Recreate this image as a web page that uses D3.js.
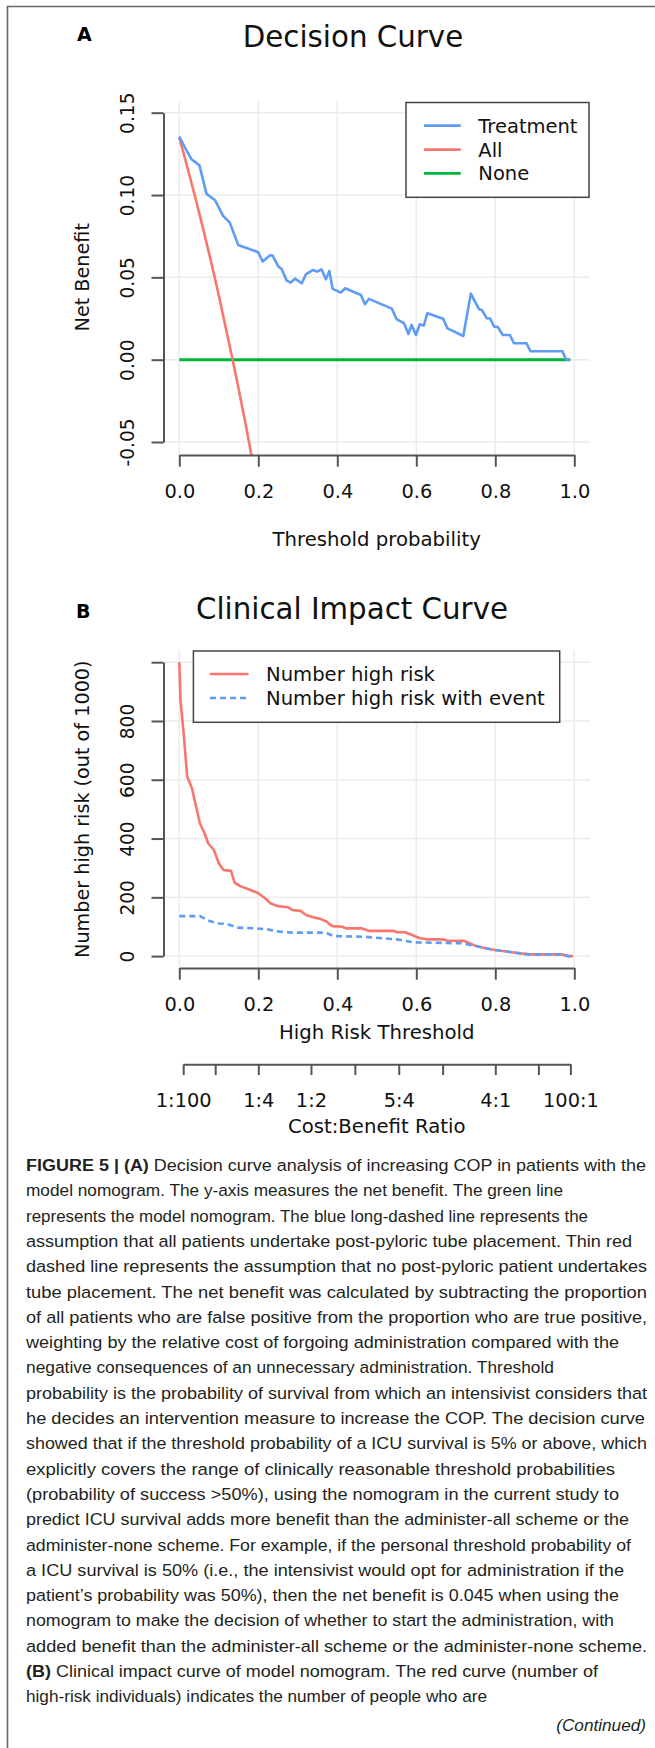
<!DOCTYPE html>
<html>
<head>
<meta charset="utf-8">
<script src="https://cdn.jsdelivr.net/npm/d3@7/dist/d3.min.js"></script>
<style>
html,body{margin:0;padding:0;background:#fff;}
svg{display:block;}
</style>
</head>
<body>
<svg id="fig" width="655" height="1748"></svg>
<script>
// ---------- DATA ----------
// Panel A: Decision curve
const treatmentX = [0,0.014,0.031,0.051,0.069,0.09,0.111,0.128,0.149,0.2,0.211,0.23,0.236,0.251,0.259,0.272,0.282,0.293,0.31,0.321,0.339,0.349,0.36,0.371,0.38,0.388,0.409,0.42,0.46,0.47,0.48,0.538,0.55,0.569,0.58,0.588,0.599,0.609,0.619,0.628,0.668,0.679,0.719,0.738,0.759,0.766,0.778,0.787,0.797,0.806,0.819,0.837,0.847,0.879,0.889,0.97,0.979,0.99];
const treatmentY = [0.1355,0.129,0.1217,0.118,0.1007,0.097,0.0873,0.0832,0.0697,0.0652,0.0596,0.0634,0.0632,0.0565,0.0551,0.048,0.0468,0.0492,0.0464,0.052,0.0545,0.0535,0.0549,0.0488,0.0539,0.043,0.0407,0.0434,0.0393,0.0337,0.0369,0.031,0.0247,0.0221,0.0156,0.0211,0.015,0.0215,0.0207,0.0282,0.0249,0.019,0.0144,0.0401,0.0306,0.0302,0.0252,0.025,0.02,0.0199,0.015,0.015,0.01,0.01,0.0051,0.0051,0,0];
const allX = [0,0.05,0.10,0.135,0.1765,0.19];
const allY = [0.135,0.0895,0.039,0,-0.05,-0.068];
const noneX = [0,0.99];
const noneY = [0,0];
const xTicks = [0,0.2,0.4,0.6,0.8,1.0];
const yTicksA = [-0.05,0,0.05,0.10,0.15];
const yLabelsA = ["-0.05","0.00","0.05","0.10","0.15"];
const legendA = ["Treatment","All","None"];

// Panel B: Clinical impact curve
const highRiskX = [0,0.003,0.011,0.02,0.032,0.052,0.064,0.073,0.0875,0.1,0.112,0.131,0.14,0.154,0.18,0.2,0.217,0.231,0.249,0.276,0.286,0.307,0.321,0.339,0.36,0.373,0.387,0.413,0.422,0.461,0.479,0.542,0.551,0.572,0.609,0.63,0.667,0.68,0.72,0.752,0.778,0.8,0.847,0.884,0.968,0.984,0.997];
const highRiskY = [1000,871,758,610,571,452,418,384,361,316,293,290,250,238,225,214,197,180,170,166,157,154,140,132,125,117,102,100,94.5,94.5,86,86,81,81,60.5,57,57,52,52,34,26,21,12,6,6,0,0];
const eventX = [0,0.052,0.075,0.101,0.122,0.147,0.193,0.223,0.255,0.286,0.371,0.39,0.466,0.551,0.593,0.715,0.752,0.778,0.8,0.847,0.884,0.968,0.984,0.997];
const eventY = [136,136,120,111,109,97,94.5,91,83,80,80,68,66,57,47,43.5,34,26,21,12,6,6,0,0];
const yTicksB = [0,200,400,600,800,1000];
const yLabelsB = ["0","200","400","600","800",""];
const legendB = ["Number high risk","Number high risk with event"];
const costBenefitTicks = ["1:100","1:10","1:4","1:2","4:5","5:4","2:1","4:1","10:1","100:1"];
const costBenefitLabeled = ["1:100","1:4","1:2","5:4","4:1","100:1"];

// Caption
const captionLines = [
  [["b","FIGURE 5 | (A)"],["n"," Decision curve analysis of increasing COP in patients with the"]],
  [["n","model nomogram. The y-axis measures the net benefit. The green line"]],
  [["n","represents the model nomogram. The blue long-dashed line represents the"]],
  [["n","assumption that all patients undertake post-pyloric tube placement. Thin red"]],
  [["n","dashed line represents the assumption that no post-pyloric patient undertakes"]],
  [["n","tube placement. The net benefit was calculated by subtracting the proportion"]],
  [["n","of all patients who are false positive from the proportion who are true positive,"]],
  [["n","weighting by the relative cost of forgoing administration compared with the"]],
  [["n","negative consequences of an unnecessary administration. Threshold"]],
  [["n","probability is the probability of survival from which an intensivist considers that"]],
  [["n","he decides an intervention measure to increase the COP. The decision curve"]],
  [["n","showed that if the threshold probability of a ICU survival is 5% or above, which"]],
  [["n","explicitly covers the range of clinically reasonable threshold probabilities"]],
  [["n","(probability of success >50%), using the nomogram in the current study to"]],
  [["n","predict ICU survival adds more benefit than the administer-all scheme or the"]],
  [["n","administer-none scheme. For example, if the personal threshold probability of"]],
  [["n","a ICU survival is 50% (i.e., the intensivist would opt for administration if the"]],
  [["n","patient\u2019s probability was 50%), then the net benefit is 0.045 when using the"]],
  [["n","nomogram to make the decision of whether to start the administration, with"]],
  [["n","added benefit than the administer-all scheme or the administer-none scheme."]],
  [["b","(B)"],["n"," Clinical impact curve of model nomogram. The red curve (number of"]],
  [["n","high-risk individuals) indicates the number of people who are"]]
];
const captionLineEnds = [646,563,588,632,647,647,647,619,554,647,645,647,615,619,629,631,624,619,614,647,598,487];

// ---------- DRAWING ----------
const svg = d3.select("#fig");
const FONT = "DejaVu Sans, Verdana, sans-serif";
const AX = "#555";
const C_BLUE = "#5f9cf6", C_RED = "#f8766d", C_GREEN = "#00b43a";

// figure frame (left + top)
svg.append("path").attr("d","M7.5,1748 V6.5 H655").attr("fill","none").attr("stroke","#666").attr("stroke-width",1.6);

const xScale = d3.scaleLinear().domain([0,1]).range([179.3,574.3]);
const regionL = 163.5, regionR = 590;

function grid(g, y, yTicks, top, bottom){
  g.selectAll(".vg").data(xTicks).join("line")
    .attr("x1",d=>xScale(d)).attr("x2",d=>xScale(d)).attr("y1",top).attr("y2",bottom)
    .attr("stroke","#ebebeb").attr("stroke-width",1.5);
  g.selectAll(".hg").data(yTicks).join("line")
    .attr("x1",regionL).attr("x2",regionR).attr("y1",d=>y(d)).attr("y2",d=>y(d))
    .attr("stroke","#ebebeb").attr("stroke-width",1.5);
}

function styleAxis(g){
  g.select(".domain").attr("stroke",AX).attr("stroke-width",2);
  g.selectAll(".tick line").attr("stroke",AX).attr("stroke-width",2);
  g.selectAll("text").attr("fill","#111").attr("font-family",FONT);
}

function yAxis(y, ticks, labels){
  const g = svg.append("g").attr("transform",`translate(${regionL},0)`)
    .call(d3.axisLeft(y).tickValues(ticks).tickSize(12).tickSizeOuter(0)
      .tickFormat((d,i)=> labels[i]));
  styleAxis(g);
  g.selectAll(".tick text").attr("transform","rotate(-90)")
    .attr("x",0).attr("y",-29.5).attr("dy",0).attr("text-anchor","middle")
    .attr("font-size",18.6);
  return g;
}

function xAxis(yPos, labelBase){
  const g = svg.append("g").attr("transform",`translate(0,${yPos})`)
    .call(d3.axisBottom(xScale).tickValues(xTicks).tickSize(11.7).tickSizeOuter(0)
      .tickFormat(d3.format(".1f")));
  styleAxis(g);
  g.selectAll(".tick text").attr("y",labelBase - yPos).attr("dy",0).attr("font-size",19.4);
  return g;
}

function line(x, y){ return d3.line().x((d)=>x(d[0])).y(d=>y(d[1])); }
function zip(a,b){ return a.map((v,i)=>[v,b[i]]); }

// ===== Panel A =====
const yA = d3.scaleLinear().domain([-0.05,0.15]).range([442,112.7]);
const topA = 99.5, botA = 455;
grid(svg.append("g"), yA, yTicksA, topA+2, botA);

svg.append("defs").append("clipPath").attr("id","clipA").append("rect")
  .attr("x",regionL).attr("y",topA).attr("width",regionR-regionL).attr("height",botA-topA);

const curvesA = svg.append("g").attr("clip-path","url(#clipA)");
curvesA.append("path").datum(zip(noneX,noneY)).attr("d",line(xScale,yA))
  .attr("fill","none").attr("stroke",C_GREEN).attr("stroke-width",3);
curvesA.append("path").datum(zip(allX,allY)).attr("d",line(xScale,yA).curve(d3.curveMonotoneX))
  .attr("fill","none").attr("stroke",C_RED).attr("stroke-width",2.6);
curvesA.append("path").datum(zip(treatmentX,treatmentY)).attr("d",line(xScale,yA))
  .attr("fill","none").attr("stroke",C_BLUE).attr("stroke-width",2.6).attr("stroke-linejoin","round");

yAxis(yA, yTicksA, yLabelsA);
xAxis(botA, 498.3);

svg.append("text").attr("x",77).attr("y",41).text("A")
  .attr("font-family",FONT).attr("font-weight","bold").attr("font-size",19);
svg.append("text").attr("x",353).attr("y",46.7).attr("text-anchor","middle").text("Decision Curve")
  .attr("font-family",FONT).attr("font-size",29.3).attr("fill","#111");
svg.append("text").attr("x",376.7).attr("y",546).attr("text-anchor","middle").text("Threshold probability")
  .attr("font-family",FONT).attr("font-size",19.7).attr("fill","#111");
svg.append("text").attr("transform",`translate(88.5,${(topA+botA)/2}) rotate(-90)`)
  .attr("text-anchor","middle").text("Net Benefit")
  .attr("font-family",FONT).attr("font-size",19.2).attr("fill","#111");

// legend A
const legA = svg.append("g");
legA.append("rect").attr("x",406).attr("y",102.5).attr("width",183).attr("height",94.8)
  .attr("fill","#fff").attr("stroke","#444").attr("stroke-width",1.5);
const legColorsA = [C_BLUE,C_RED,C_GREEN];
const legRowsA = [125.7,149.7,173.3];
legendA.forEach((name,i)=>{
  legA.append("line").attr("x1",424).attr("x2",460.7).attr("y1",legRowsA[i]).attr("y2",legRowsA[i])
    .attr("stroke",legColorsA[i]).attr("stroke-width",2.8);
  legA.append("text").attr("x",478.3).attr("y",legRowsA[i]).attr("dy","0.36em").text(name)
    .attr("font-family",FONT).attr("font-size",19.5).attr("fill","#111");
});

// ===== Panel B =====
const yB = d3.scaleLinear().domain([0,1000]).range([956.1,662.2]);
const topB = 650.4, botB = 968;
grid(svg.append("g"), yB, yTicksB, topB, botB);

svg.select("defs").append("clipPath").attr("id","clipB").append("rect")
  .attr("x",regionL).attr("y",topB).attr("width",regionR-regionL).attr("height",botB-topB);
const curvesB = svg.append("g").attr("clip-path","url(#clipB)");
curvesB.append("path").datum(zip(highRiskX,highRiskY)).attr("d",line(xScale,yB))
  .attr("fill","none").attr("stroke",C_RED).attr("stroke-width",2.6).attr("stroke-linejoin","round");
curvesB.append("path").datum(zip(eventX,eventY)).attr("d",line(xScale,yB))
  .attr("fill","none").attr("stroke",C_BLUE).attr("stroke-width",2.6).attr("stroke-dasharray","6,4");

yAxis(yB, yTicksB, yLabelsB);
xAxis(botB, 1010.7);

// cost:benefit axis
const cbPos = costBenefitTicks.map(s=>{const [a,b]=s.split(":").map(Number); return a/(a+b);});
const cbScale = d3.scaleLinear().domain([cbPos[0],cbPos[cbPos.length-1]])
  .range([xScale(cbPos[0]),xScale(cbPos[cbPos.length-1])]);
const cbAxis = svg.append("g").attr("transform","translate(0,1064.3)")
  .call(d3.axisBottom(cbScale).tickValues(cbPos).tickSize(10.7).tickSizeOuter(0)
    .tickFormat((d,i)=> costBenefitLabeled.includes(costBenefitTicks[i]) ? costBenefitTicks[i] : ""));
styleAxis(cbAxis);
cbAxis.selectAll(".tick text").attr("y",1106.7-1064.3).attr("dy",0).attr("font-size",19.4);

svg.append("text").attr("x",76).attr("y",618.3).text("B")
  .attr("font-family",FONT).attr("font-weight","bold").attr("font-size",19);
svg.append("text").attr("x",352).attr("y",619.3).attr("text-anchor","middle").text("Clinical Impact Curve")
  .attr("font-family",FONT).attr("font-size",29.3).attr("fill","#111");
svg.append("text").attr("x",376.7).attr("y",1039).attr("text-anchor","middle").text("High Risk Threshold")
  .attr("font-family",FONT).attr("font-size",19.7).attr("fill","#111");
svg.append("text").attr("x",376.7).attr("y",1132.7).attr("text-anchor","middle").text("Cost:Benefit Ratio")
  .attr("font-family",FONT).attr("font-size",19.7).attr("fill","#111");
svg.append("text").attr("transform",`translate(88.5,${(topB+botB)/2}) rotate(-90)`)
  .attr("text-anchor","middle").text("Number high risk (out of 1000)")
  .attr("font-family",FONT).attr("font-size",19.2).attr("fill","#111");

// legend B
const legB = svg.append("g");
legB.append("rect").attr("x",193.4).attr("y",651).attr("width",366.3).attr("height",71.3)
  .attr("fill","#fff").attr("stroke","#444").attr("stroke-width",1.5);
const legRowsB = [674,698];
const legColorsB = [C_RED,C_BLUE];
legendB.forEach((name,i)=>{
  legB.append("line").attr("x1",210).attr("x2",248.5).attr("y1",legRowsB[i]).attr("y2",legRowsB[i])
    .attr("stroke",legColorsB[i]).attr("stroke-width",2.6)
    .attr("stroke-dasharray", i===1 ? "6,4" : null);
  legB.append("text").attr("x",266).attr("y",legRowsB[i]).attr("dy","0.36em").text(name)
    .attr("font-family",FONT).attr("font-size",19.6).attr("fill","#111");
});

// ===== Caption =====
const CAP_FONT = "Liberation Sans, Arial, Helvetica, sans-serif";
const capX = 26, capY0 = 1171, capStep = 25.3;
const cap = svg.append("g").attr("font-family",CAP_FONT).attr("font-size",17.2).attr("fill","#231f20");
captionLines.forEach((parts,i)=>{
  const t = cap.append("text").attr("x",capX).attr("y",capY0 + i*capStep)
    .attr("textLength",captionLineEnds[i]-capX).attr("lengthAdjust","spacingAndGlyphs");
  parts.forEach(p=>{
    t.append("tspan").text(p[1]).attr("font-weight",p[0]==="b"?"bold":"normal");
  });
});
cap.append("text").attr("x",646).attr("y",capY0 + captionLines.length*capStep + 3)
  .attr("text-anchor","end").attr("font-style","italic").text("(Continued)");
</script>
</body>
</html>
